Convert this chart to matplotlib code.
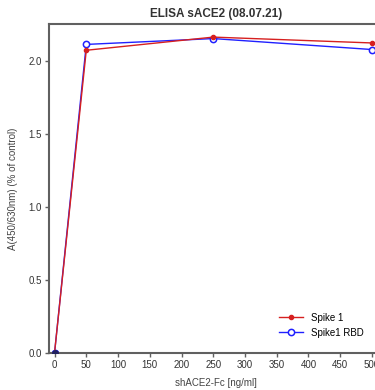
import matplotlib
matplotlib.use("Agg")
from matplotlib import pyplot as plt

plt.rcParams['font.family'] = ['Liberation Sans', 'DejaVu Sans']

conc = [0, 50, 250, 500]
spike1 = [0.0, 2.07, 2.16, 2.12]
spike1_rbd = [0.0, 2.11, 2.15, 2.075]

fig = plt.figure(figsize=(3.75, 3.9), dpi=100)
ax = fig.add_axes([0.1307, 0.095, 0.89, 0.8436])

ax.plot(conc, spike1, color="#d62020", lw=1.0, marker="o", ms=3, label="Spike 1", zorder=3)
ax.plot(conc, spike1_rbd, color="#2020ff", lw=1.0, marker="o", ms=4.5, mfc="white",
        mec="#2020ff", mew=1.1, label="Spike1 RBD", zorder=2)
ax.plot([0], [0], marker="o", color="#202060", ms=4, zorder=4)

ax.set_xlim(-8.7, 517)
ax.set_ylim(0, 2.25)
ax.set_xticks(range(0, 501, 50))
ax.set_yticks([0, 0.5, 1.0, 1.5, 2.0])
ax.set_yticklabels(["0.0", "0.5", "1.0", "1.5", "2.0"])

for s in ax.spines.values():
    s.set_color("#606060")
    s.set_linewidth(1.5)
ax.tick_params(direction="out", length=3, width=1, color="#606060", labelsize=7, labelcolor="#333333", pad=2)

ax.set_title("ELISA sACE2 (08.07.21)", fontsize=8.5, fontweight="bold", color="#333333", pad=5)
ax.set_xlabel("shACE2-Fc [ng/ml]", fontsize=7, color="#444444", labelpad=6)
ax.set_ylabel("A(450/630nm) (% of control)", fontsize=7, color="#444444", labelpad=8)

ax.legend(loc="lower right", frameon=False, fontsize=7, handlelength=2.5, bbox_to_anchor=(0.97, 0.02))

fig.savefig("out.png", dpi=100)
